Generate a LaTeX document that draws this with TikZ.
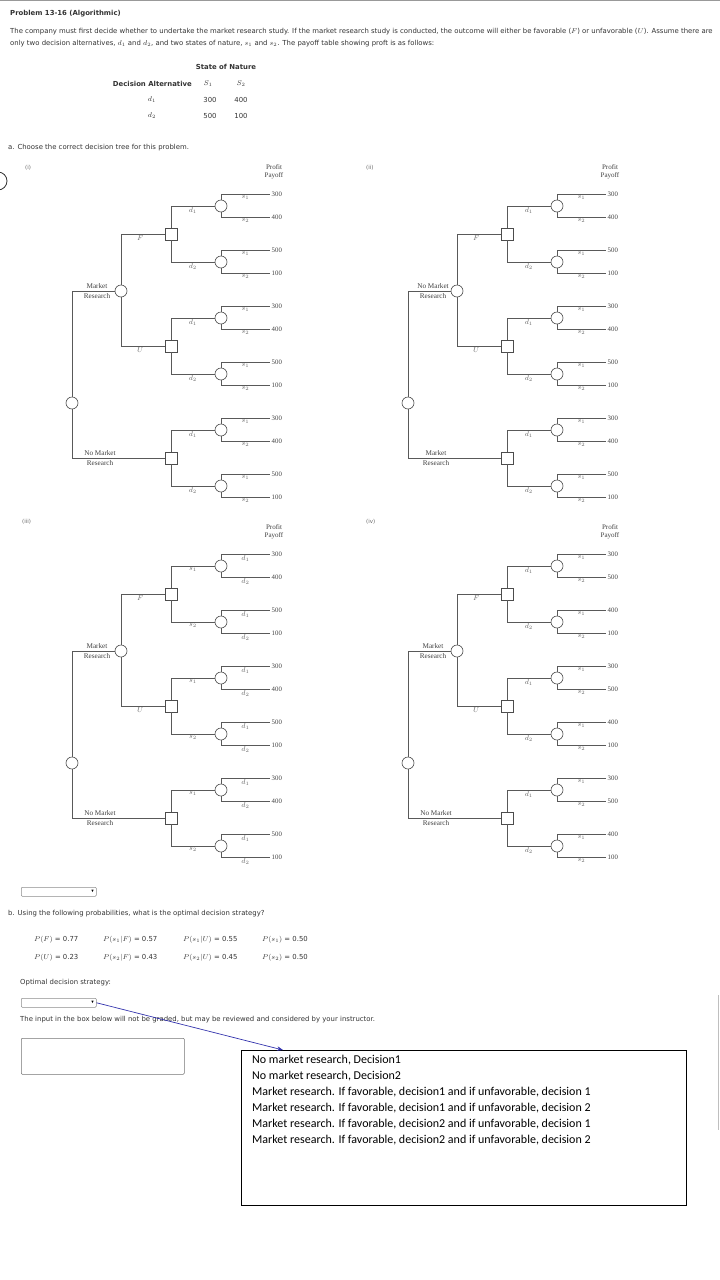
\documentclass[tikz,border=0pt]{standalone}
\usepackage{amssymb}
\usepackage{fontspec}
\setmainfont{DejaVu Sans}
\newfontfamily\treefont{Liberation Serif}
\newfontfamily\optfont{Carlito}
\usetikzlibrary{arrows.meta}

\tikzset{
  branch/.style={draw=black!65, line width=0.6pt},
  chance/.style={circle, draw=black!70, fill=white, line width=0.6pt, minimum size=12pt, inner sep=0pt},
  decision/.style={rectangle, draw=black!70, fill=white, line width=0.6pt, minimum size=12pt, inner sep=0pt},
  lab/.style={pos=0.75, below, inner sep=1pt, font=\treefont\fontsize{6.8}{7}\selectfont, text=black!60},
  pay/.style={anchor=west, inner sep=1.5pt, font=\treefont\fontsize{6.8}{7}\selectfont, text=black!75},
  brlab/.style={align=center, font=\treefont\fontsize{7.2}{10.5}\selectfont, text=black!75},
  txt/.style={anchor=west, inner sep=0pt, font=\fontsize{6.9}{8}\selectfont, text=black!80},
  btxt/.style={txt, font=\bfseries\fontsize{6.9}{8}\selectfont},
  box/.style={draw=black!45, line width=0.5pt, rounded corners=1pt}
}

% one decision tree: prefix, shift, top branch, bottom branch, four payoffs
\newcommand{\dtree}[8]{%
  \begin{scope}[shift={#2}]
    \node[chance] (#1r) at (72,403) {};
    \node[chance] (#1m) at (121,291) {};
    \node[brlab] at (97,291) {#3};
    \node[brlab] at (100,458) {#4};
    \node[font=\treefont\fontsize{7}{8}\selectfont, align=center, text=black!75] at (274,172) {Profit\\Payoff};
    \foreach \gp/\yy/\gl in {f/234/F,u/346/U,n/458/{}}{
      \node[decision] (#1\gp) at (171,\yy) {};
      \node[chance] (#1\gp a) at (221,\yy-28) {};
      \node[chance] (#1\gp b) at (221,\yy+28) {};
      \draw[branch] (#1\gp) |- node[lab]{\sqa} (#1\gp a);
      \draw[branch] (#1\gp) |- node[lab]{\sqb} (#1\gp b);
      \foreach \cc/\dy/\pa/\pb in {a/-28/#5/#6,b/28/#7/#8}{
        \coordinate (#1\gp\cc1) at (270,\yy+\dy-11.5);
        \coordinate (#1\gp\cc2) at (270,\yy+\dy+11.5);
        \draw[branch] (#1\gp\cc) |- node[lab]{\cha} (#1\gp\cc1);
        \draw[branch] (#1\gp\cc) |- node[lab]{\chb} (#1\gp\cc2);
        \node[pay] at (#1\gp\cc1) {\pa};
        \node[pay] at (#1\gp\cc2) {\pb};
      }
    }
    \draw[branch] (#1m) |- node[lab, pos=0.72]{$F$} (#1f);
    \draw[branch] (#1m) |- node[lab, pos=0.72]{$U$} (#1u);
    \draw[branch] (#1r) |- (#1m);
    \draw[branch] (#1r) |- (#1n);
  \end{scope}}

\begin{document}
\begin{tikzpicture}[x=1pt, y=-1pt]
\useasboundingbox (0,0) rectangle (720,1280);
\draw[black!40, line width=1pt] (0,0.5) -- (720,0.5);
\draw[black!25] (718,995) -- (718,1130);

% question text
\node[btxt] at (10,14) {Problem 13-16 (Algorithmic)};
\node[txt] at (10,32) {The company must first decide whether to undertake the market research study. If the market research study is conducted, the outcome will either be favorable ($F$) or unfavorable ($U$). Assume there are};
\node[txt] at (10,44) {only two decision alternatives, $d_1$ and $d_2$, and two states of nature, $s_1$ and $s_2$. The payoff table showing proft is as follows:};

% payoff table
\node[btxt, anchor=center] at (226,67) {State of Nature};
\node[btxt, anchor=east] at (192,84) {Decision Alternative};
\node[btxt, anchor=center] at (208,84) {$S_1$};
\node[btxt, anchor=center] at (241,84) {$S_2$};
\node[txt, anchor=center] at (152,100) {$d_1$};
\node[txt, anchor=center] at (210,100) {300};
\node[txt, anchor=center] at (241,100) {400};
\node[txt, anchor=center] at (152,116) {$d_2$};
\node[txt, anchor=center] at (210,116) {500};
\node[txt, anchor=center] at (241,116) {100};
\node[txt] at (8,148) {a. Choose the correct decision tree for this problem.};

% the four candidate trees
\draw[black!80, line width=0.8pt] (-2,181) circle (9);
\foreach \tl/\tx/\ty in {(i)/25/168,(ii)/366/168,(iii)/22/522,(iv)/366/522}
  \node[txt, font=\fontsize{5.5}{6}\selectfont, text=black!60] at (\tx,\ty) {\tl};

\def\sqa{$d_1$}\def\sqb{$d_2$}\def\cha{$s_1$}\def\chb{$s_2$}
\dtree{t1}{(0,0)}{Market\\Research}{No Market\\Research}{300}{400}{500}{100}
\dtree{t2}{(336,0)}{No Market\\Research}{Market\\Research}{300}{400}{500}{100}
\dtree{t4}{(336,360)}{Market\\Research}{No Market\\Research}{300}{500}{400}{100}
\def\sqa{$s_1$}\def\sqb{$s_2$}\def\cha{$d_1$}\def\chb{$d_2$}
\dtree{t3}{(0,360)}{Market\\Research}{No Market\\Research}{300}{400}{500}{100}

% part b
\node[box, minimum width=75pt, minimum height=9pt, anchor=north west] (dd1) at (21,887) {};
\node[font=\fontsize{4}{4}\selectfont, anchor=east, inner sep=2pt] at (dd1.east) {$\blacktriangledown$};
\node[txt] at (8,914) {b. Using the following probabilities, what is the optimal decision strategy?};
\node[txt] at (34,940) {$P(F)$ = 0.77};
\node[txt] at (34,958) {$P(U)$ = 0.23};
\node[txt] at (103,940) {$P(s_1|F)$ = 0.57};
\node[txt] at (103,958) {$P(s_2|F)$ = 0.43};
\node[txt] at (183,940) {$P(s_1|U)$ = 0.55};
\node[txt] at (183,958) {$P(s_2|U)$ = 0.45};
\node[txt] at (262,940) {$P(s_1)$ = 0.50};
\node[txt] at (262,958) {$P(s_2)$ = 0.50};
\node[txt] at (20,983) {Optimal decision strategy:};
\node[box, minimum width=75pt, minimum height=9pt, anchor=north west] (dd2) at (21,998) {};
\node[font=\fontsize{4}{4}\selectfont, anchor=east, inner sep=2pt] at (dd2.east) {$\blacktriangledown$};
\node[txt] at (20,1020) {The input in the box below will not be graded, but may be reviewed and considered by your instructor.};
\node[box, draw=black!55, minimum width=163pt, minimum height=36pt, anchor=north west] (note) at (21,1038) {};

% answer options
\node[draw=black, line width=0.7pt, minimum width=445pt, minimum height=155pt, anchor=north west] (opts) at (241,1050) {};
\coordinate (optsin) at (283,1050);
\node[anchor=north west, align=left, inner sep=0pt, font=\optfont\fontsize{12}{16}\selectfont] at (252,1055) {No market research, Decision1\\
No market research, Decision2\\
Market research. If favorable, decision1 and if unfavorable, decision 1\\
Market research. If favorable, decision1 and if unfavorable, decision 2\\
Market research. If favorable, decision2 and if unfavorable, decision 1\\
Market research. If favorable, decision2 and if unfavorable, decision 2};
\draw[-{Stealth[length=6pt]}, blue!60!black!80, line width=0.7pt] (dd2.east) -- (optsin);
\end{tikzpicture}
\end{document}
